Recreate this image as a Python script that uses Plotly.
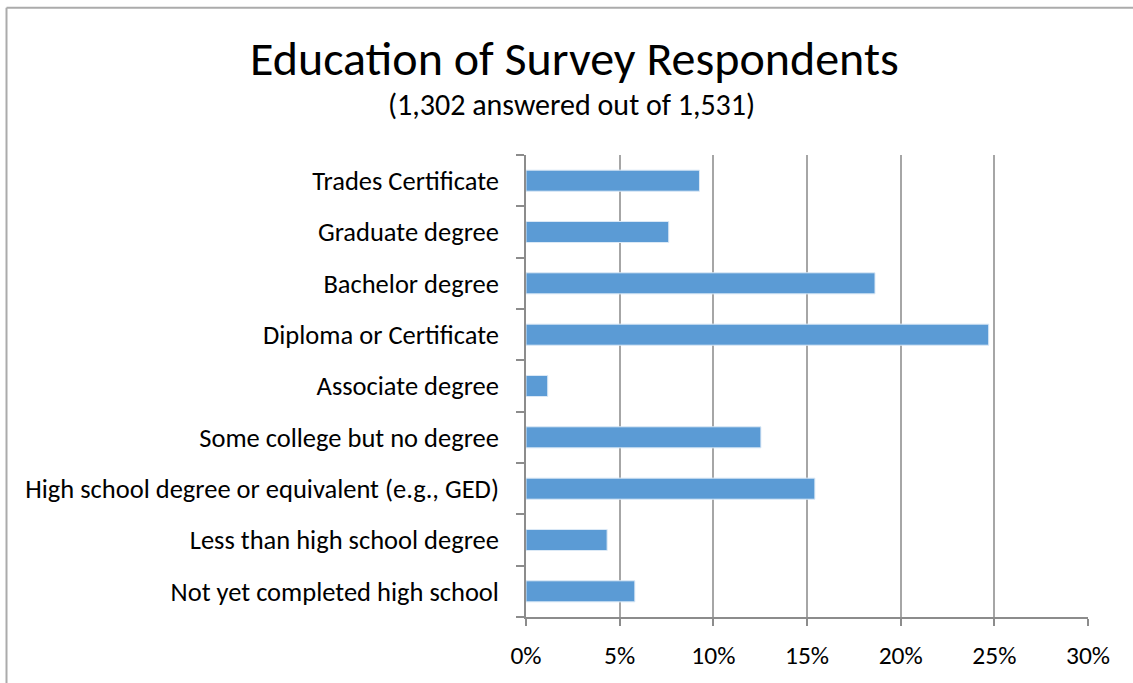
import plotly.graph_objects as go

# Education level categories, listed bottom-to-top as drawn on the axis
categories = [
    "Not yet completed high school",
    "Less than high school degree",
    "High school degree or equivalent (e.g., GED)",
    "Some college but no degree",
    "Associate degree",
    "Diploma or Certificate",
    "Bachelor degree",
    "Graduate degree",
    "Trades Certificate",
]

# Share of respondents per category (fractions of 1,302 answers)
shares = [0.0581, 0.0433, 0.1542, 0.1254, 0.0116, 0.2470, 0.1863, 0.0762, 0.0926]

x_ticks = [0, 0.05, 0.10, 0.15, 0.20, 0.25, 0.30]
x_tick_labels = ["0%", "5%", "10%", "15%", "20%", "25%", "30%"]

title_text = "Education of Survey Respondents"
subtitle_text = "(1,302 answered out of 1,531)"

FONT = "Carlito, Lato, sans-serif"
W, H = 1133, 683
L, R, T, B = 526, 45, 155, 62

def px_to_paper_x(px):
    return (px - L) / (W - L - R)

def px_to_paper_y(py):
    return (H - B - py) / (H - T - B)

fig = go.Figure(
    go.Bar(
        x=shares,
        y=categories,
        orientation="h",
        marker=dict(color="#5B9BD5", line=dict(color="#DCE9F6", width=1)),
        hoverinfo="x+y",
    )
)

frame = dict(color="#ABABAB", width=2)

fig.update_layout(
    width=W,
    height=H,
    autosize=False,
    margin=dict(l=L, r=R, t=T, b=B, pad=0),
    paper_bgcolor="white",
    plot_bgcolor="white",
    bargap=0.59,
    showlegend=False,
    font=dict(family=FONT, color="#000000"),
    annotations=[
        dict(
            text=title_text,
            xref="paper", yref="paper",
            x=px_to_paper_x(574), y=px_to_paper_y(58),
            xanchor="center", yanchor="middle",
            showarrow=False,
            font=dict(family=FONT, size=48, color="#000000"),
        ),
        dict(
            text=subtitle_text,
            xref="paper", yref="paper",
            x=px_to_paper_x(571), y=px_to_paper_y(104),
            xanchor="center", yanchor="middle",
            showarrow=False,
            font=dict(family=FONT, size=30, color="#000000"),
        ),
    ],
    shapes=[
        # chart frame: left and top edges (the rest runs off the page)
        dict(
            type="line", xref="paper", yref="paper",
            x0=px_to_paper_x(6.5), x1=px_to_paper_x(6.5),
            y0=px_to_paper_y(H + 5), y1=px_to_paper_y(6.5),
            line=frame, layer="below",
        ),
        dict(
            type="line", xref="paper", yref="paper",
            x0=px_to_paper_x(6.5), x1=px_to_paper_x(W + 5),
            y0=px_to_paper_y(6.5), y1=px_to_paper_y(6.5),
            line=frame, layer="below",
        ),
    ],
)

fig.update_xaxes(
    range=[0, 0.30],
    tickmode="array",
    tickvals=x_ticks,
    ticktext=x_tick_labels,
    showgrid=True,
    gridcolor="#A6A6A6",
    gridwidth=1.5,
    zeroline=False,
    showline=True,
    linecolor="#8C8C8C",
    linewidth=1.5,
    ticks="outside",
    ticklen=7,
    tickwidth=1.5,
    tickcolor="#8C8C8C",
    tickfont=dict(family=FONT, size=25.5, color="#000000"),
    ticklabelstandoff=8,
    fixedrange=True,
)

fig.update_yaxes(
    type="category",
    categoryorder="array",
    categoryarray=categories,
    tickson="boundaries",
    showgrid=False,
    zeroline=False,
    showline=True,
    linecolor="#8C8C8C",
    linewidth=1.5,
    ticks="outside",
    ticklen=8,
    tickwidth=1.5,
    tickcolor="#8C8C8C",
    tickfont=dict(family=FONT, size=26.5, color="#000000"),
    ticklabelstandoff=20,
    fixedrange=True,
)

# keep the page free of scrollbars so the chart fills the window cleanly
page_js = "document.documentElement.style.overflow='hidden';document.body.style.overflow='hidden';document.body.style.margin='0';"

fig.write_html("out.html", post_script=page_js)
